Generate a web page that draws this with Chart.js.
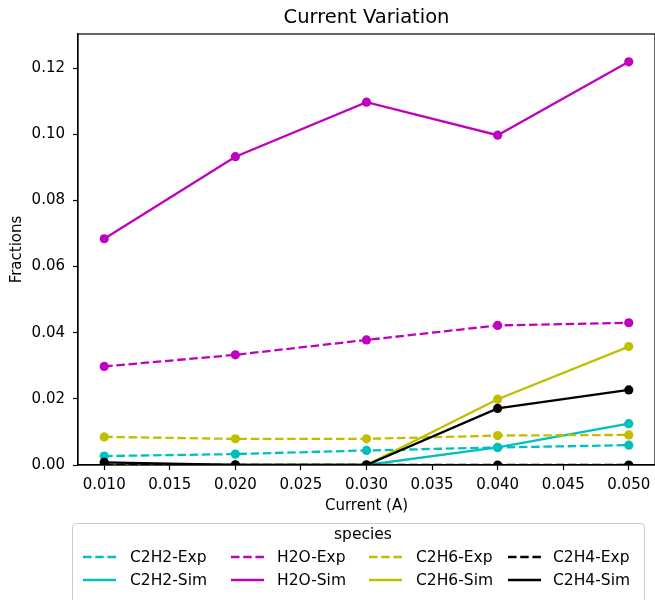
<!DOCTYPE html>
<html><head><meta charset="utf-8">
<script src="https://cdn.jsdelivr.net/npm/chart.js@4.4.1/dist/chart.umd.min.js"></script>
<style>
html,body{margin:0;padding:0;background:#fff;}
#wrap{position:relative;width:655px;height:600px;overflow:hidden;font-family:"DejaVu Sans",sans-serif;}
#c{position:absolute;left:0;top:0;}
#legendBox{position:absolute;left:72px;top:523px;width:573px;height:100px;border:1px solid #cccccc;border-radius:4px;box-sizing:border-box;background:#fff;}
.lg{position:absolute;font-size:15.5px;line-height:20px;height:20px;color:#000;white-space:nowrap;}
.lh{position:absolute;}
</style>
</head><body>
<div id="wrap">
<canvas id="c" width="655" height="600"></canvas>
<div id="legendBox"></div>
</div>
<script>
// ---- data ----
const currents = [0.010, 0.020, 0.030, 0.040, 0.050];
const c2h2Exp = [0.0027, 0.0033, 0.0044, 0.0053, 0.0060];
const c2h2Sim = [0, 0, 0, 0.0053, 0.0125];
const h2oExp  = [0.0298, 0.0333, 0.0378, 0.0422, 0.0430];
const h2oSim  = [0.0684, 0.0932, 0.1097, 0.0997, 0.1219];
const c2h6Exp = [0.0085, 0.0079, 0.0079, 0.0089, 0.0091];
const c2h6Sim = [0, 0, 0, 0.0199, 0.0358];
const c2h4Exp = [0, 0, 0, 0, 0];
const c2h4Sim = [0.0008, 0, 0, 0.0171, 0.0227];
const xTicks = [0.010, 0.015, 0.020, 0.025, 0.030, 0.035, 0.040, 0.045, 0.050];
const yTicks = [0.00, 0.02, 0.04, 0.06, 0.08, 0.10, 0.12];
const labels = ['C2H2-Exp','C2H2-Sim','H2O-Exp','H2O-Sim','C2H6-Exp','C2H6-Sim','C2H4-Exp','C2H4-Sim'];
const values = [c2h2Exp, c2h2Sim, h2oExp, h2oSim, c2h6Exp, c2h6Sim, c2h4Exp, c2h4Sim];
const colors = ['#00bfbf','#00bfbf','#bf00bf','#bf00bf','#bfbf00','#bfbf00','#000000','#000000'];
const dashed = [true,false,true,false,true,false,true,false];

const FONT = '"DejaVu Sans", sans-serif';
const DASH = [8.5, 3.7];
const LW = 2.3;

const datasets = labels.map((lab, i) => ({
  label: lab,
  data: currents.map((x, j) => ({x: x, y: values[i][j]})),
  borderColor: colors[i],
  backgroundColor: colors[i],
  borderWidth: LW,
  borderDash: dashed[i] ? DASH : [],
  pointRadius: 4.6,
  pointHoverRadius: 4.6,
  pointBorderWidth: 0,
  pointBackgroundColor: colors[i],
  pointBorderColor: colors[i],
  tension: 0,
  fill: false,
  order: labels.length - i,
  clip: {left: 10, top: 10, right: 10, bottom: 0}
}));

const framePlugin = {
  id: 'frame',
  afterDatasetsDraw(chart) {
    const a = chart.chartArea, ctx = chart.ctx;
    ctx.save();
    ctx.strokeStyle = '#000';
    ctx.lineWidth = 1.2;
    ctx.strokeRect(a.left, a.top, a.right - a.left, a.bottom - a.top);
    ctx.restore();
  },
  afterDraw(chart) {
    const a = chart.chartArea, ctx = chart.ctx;
    ctx.save();
    ctx.fillStyle = '#000';
    ctx.font = '19.5px ' + FONT;
    ctx.textAlign = 'center';
    ctx.textBaseline = 'middle';
    ctx.fillText('Current Variation', (a.left + a.right) / 2, 18);
    ctx.restore();
  }
};

new Chart(document.getElementById('c'), {
  type: 'line',
  data: {datasets: datasets},
  plugins: [framePlugin],
  options: {
    animation: false,
    responsive: false,
    devicePixelRatio: 1,
    events: [],
    layout: {autoPadding: false, padding: {left: 0, right: -1, top: 34, bottom: 85}},
    plugins: {legend: {display: false}, title: {display: false}, tooltip: {enabled: false}},
    scales: {
      x: {
        type: 'linear', min: 0.008, max: 0.052,
        afterFit: s => { s.height = 50; s.paddingLeft = 0; s.paddingRight = 0; },
        afterBuildTicks: s => { s.ticks = xTicks.map(v => ({value: v})); },
        ticks: {callback: v => Number(v).toFixed(3), color: '#000', font: {family: FONT, size: 15}, padding: 6, maxRotation: 0, autoSkip: false},
        grid: {drawOnChartArea: false, tickLength: 5, tickColor: '#000', tickWidth: 1.2},
        border: {display: true, color: '#000', width: 1.2},
        title: {display: true, text: 'Current (A)', color: '#000', font: {family: FONT, size: 15}, padding: {top: 0, bottom: 0}}
      },
      y: {
        type: 'linear', min: 0, max: 0.1303,
        afterFit: s => { s.width = 78; s.paddingTop = 0; s.paddingBottom = 0; },
        afterBuildTicks: s => { s.ticks = yTicks.map(v => ({value: v})); },
        ticks: {callback: v => Number(v).toFixed(2), color: '#000', font: {family: FONT, size: 15}, padding: 8, autoSkip: false},
        grid: {drawOnChartArea: false, tickLength: 5, tickColor: '#000', tickWidth: 1.2},
        border: {display: true, color: '#000', width: 1.2},
        title: {display: true, text: 'Fractions', color: '#000', font: {family: FONT, size: 15}, padding: {top: 8, bottom: 0}}
      }
    }
  }
});

// ---- HTML legend (matplotlib-style, 4 columns, column-major) ----
const wrap = document.getElementById('wrap');
const colHandleX = [83, 231, 369, 508];
const colTextX = [130, 277, 416, 553];
const rowY = [556.5, 579.5];
const title = document.createElement('div');
title.className = 'lg';
title.textContent = 'species';
title.style.left = '263px'; title.style.width = '200px'; title.style.textAlign = 'center';
title.style.top = (534 - 10) + 'px';
wrap.appendChild(title);
labels.forEach((lab, i) => {
  const col = Math.floor(i / 2), row = i % 2;
  const svgNS = 'http://www.w3.org/2000/svg';
  const svg = document.createElementNS(svgNS, 'svg');
  svg.setAttribute('width', '34'); svg.setAttribute('height', '10');
  svg.setAttribute('class', 'lh');
  svg.style.left = colHandleX[col] + 'px';
  svg.style.top = (rowY[row] - 5) + 'px';
  const ln = document.createElementNS(svgNS, 'line');
  ln.setAttribute('x1', '0'); ln.setAttribute('x2', '33');
  ln.setAttribute('y1', '5'); ln.setAttribute('y2', '5');
  ln.setAttribute('stroke', colors[i]); ln.setAttribute('stroke-width', LW);
  if (dashed[i]) ln.setAttribute('stroke-dasharray', DASH.join(' '));
  svg.appendChild(ln);
  wrap.appendChild(svg);
  const t = document.createElement('div');
  t.className = 'lg';
  t.textContent = lab;
  t.style.left = colTextX[col] + 'px';
  t.style.top = (rowY[row] - 10) + 'px';
  wrap.appendChild(t);
});
</script>
</body></html>
